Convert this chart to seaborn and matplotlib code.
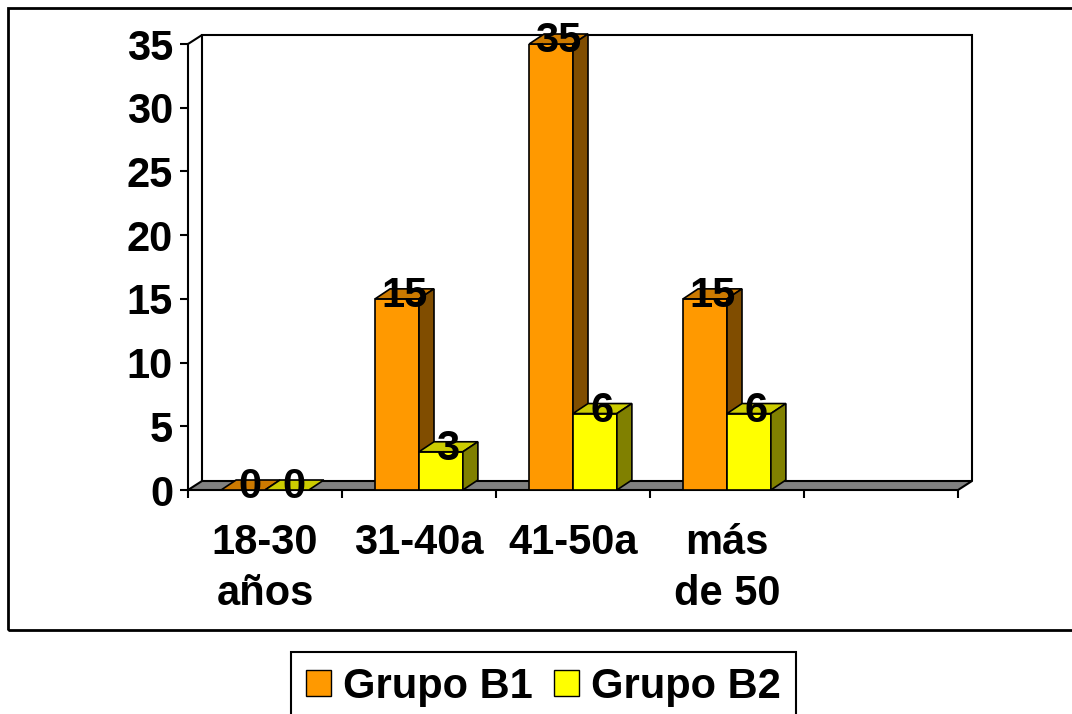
import matplotlib
matplotlib.use("Agg")
import matplotlib.pyplot as plt
import matplotlib.colors as mcolors
from matplotlib.patches import Polygon, Rectangle, Patch
import pandas as pd
import seaborn as sns

# ---- data -------------------------------------------------------------
categories = ["18-30\naños", "31-40a", "41-50a", "más\nde 50"]
grupo_b1 = [0, 15, 35, 15]
grupo_b2 = [0, 3, 6, 6]
series_names = ["Grupo B1", "Grupo B2"]
y_ticks = [0, 5, 10, 15, 20, 25, 30, 35]

# ---- style ------------------------------------------------------------
front_colors = ["#FF9900", "#FFFF00"]
top_colors = ["#CC7A00", "#CCCC00"]
side_colors = ["#804D00", "#808000"]
floor_color = "#808080"

sns.set_theme(style="white")
plt.rcParams["font.family"] = ["Liberation Sans", "DejaVu Sans"]
plt.rcParams["font.weight"] = "bold"
for key in ["text.color", "axes.labelcolor", "xtick.color", "ytick.color",
            "xtick.labelcolor", "ytick.labelcolor"]:
    plt.rcParams[key] = "black"
FS = 30

W, H = 1072, 714
fig = plt.figure(figsize=(W / 100, H / 100), dpi=100)
fig.patch.set_facecolor("white")


def fx(px):
    return px / W


def fy(py):
    return 1 - py / H


# front plane of the 3-D box
ax = fig.add_axes([fx(188), fy(490), fx(958) - fx(188), fy(44) - fy(490)])
ax.set_facecolor("none")

df = pd.DataFrame({
    "Edad": categories * 2,
    "Valor": grupo_b1 + grupo_b2,
    "Grupo": [series_names[0]] * len(categories) + [series_names[1]] * len(categories),
})

sns.barplot(data=df, x="Edad", y="Valor", hue="Grupo", order=categories,
            hue_order=series_names, palette=front_colors, width=0.57,
            saturation=1, edgecolor="black", linewidth=1.2, legend=False,
            ax=ax, zorder=3)

n_slots = len(categories) + 1
ax.set_xlim(-0.5, n_slots - 0.5)
ax.set_ylim(0, y_ticks[-1])
ax.set_xlabel("")
ax.set_ylabel("")
for side in ["top", "right", "bottom"]:
    ax.spines[side].set_visible(False)
ax.spines["left"].set_color("black")
ax.spines["left"].set_linewidth(1.5)
ax.grid(False)


def pix_to_data(dxp, dyp):
    x0, y0 = ax.transData.transform((0, 0))
    x1, y1 = ax.transData.inverted().transform((x0 + dxp, y0 + dyp))
    return x1, y1


wx, wy = pix_to_data(14, 9)     # wall depth
bx, by = pix_to_data(15, 10)    # bar depth
xlo, xhi = -0.5, n_slots - 0.5
ytop = y_ticks[-1]

# floor
ax.add_patch(Polygon([(xlo, 0), (xhi, 0), (xhi + wx, wy), (xlo + wx, wy)],
                     closed=True, facecolor=floor_color, edgecolor="black",
                     linewidth=1.5, zorder=1, clip_on=False))
# back wall and left wall outline
ax.plot([xlo + wx, xlo + wx, xhi + wx, xhi + wx], [wy, ytop + wy, ytop + wy, wy],
        color="black", lw=1.5, zorder=1, clip_on=False, solid_joinstyle="miter")
ax.plot([xlo, xlo + wx], [ytop, ytop + wy], color="black", lw=1.5, zorder=1,
        clip_on=False)

# 3-D faces for each bar
bars = [p for p in ax.patches if isinstance(p, Rectangle)]
bars = sorted(bars, key=lambda p: p.get_x())
for rank, p in enumerate(bars):
    x0, w, h = p.get_x(), p.get_width(), p.get_height()
    fc = mcolors.to_hex(p.get_facecolor()[:3]).upper()
    k = 0 if fc == front_colors[0] else 1
    z = 3 + rank * 0.1
    p.set_zorder(z)
    if h == 0:
        p.set_linewidth(0)
    top = Polygon([(x0, h), (x0 + w, h), (x0 + w + bx, h + by), (x0 + bx, h + by)],
                  closed=True, facecolor=top_colors[k], edgecolor="black",
                  linewidth=1.2, zorder=z, clip_on=False)
    ax.add_patch(top)
    if h > 0:
        side = Polygon([(x0 + w, 0), (x0 + w + bx, by), (x0 + w + bx, h + by), (x0 + w, h)],
                       closed=True, facecolor=side_colors[k], edgecolor="black",
                       linewidth=1.2, zorder=z, clip_on=False)
        ax.add_patch(side)

# value labels
for p in bars:
    v = p.get_height()
    ax.annotate(f"{v:g}", xy=(p.get_x() + p.get_width() / 2, v), xytext=(7, 3),
                textcoords="offset pixels", ha="center", va="center",
                fontsize=FS, fontweight="bold", color="black", zorder=10,
                annotation_clip=False)

# ticks
ax.set_yticks(y_ticks)
ax.tick_params(axis="y", which="major", length=5.8, width=1.5, color="black",
               pad=5, labelsize=FS, left=True, direction="out", labelcolor="black")
ax.set_xticks(range(len(categories)))
ax.set_xticklabels(categories)
ax.set_xticks([i - 0.5 for i in range(n_slots + 1)], minor=True)
ax.tick_params(axis="x", which="major", length=0, pad=24, labelsize=FS,
               bottom=True, labelcolor="black")
ax.tick_params(axis="x", which="minor", length=5.8, width=1.5, color="black",
               bottom=True, direction="out")
for lbl in ax.get_xticklabels():
    lbl.set_linespacing(1.35)
    lbl.set_fontweight("bold")
for lbl in ax.get_yticklabels():
    lbl.set_fontweight("bold")

# chart-area border
fig.add_artist(Rectangle((fx(8), fy(630)), fx(1100) - fx(8), fy(8) - fy(630),
                         transform=fig.transFigure, fill=False, edgecolor="black",
                         linewidth=2, clip_on=False))

# legend
handles = [Patch(facecolor=c, edgecolor="black", linewidth=1) for c in front_colors]
leg = fig.legend(handles, series_names, loc="upper center",
                 bbox_to_anchor=(fx(543.5), fy(652)), ncol=2, frameon=True,
                 fancybox=False, edgecolor="black", framealpha=1,
                 prop=dict(size=FS, weight="bold"), handlelength=0.6,
                 handleheight=0.6, handletextpad=0.3, columnspacing=0.5,
                 borderpad=0.35, borderaxespad=0)
leg.get_frame().set_linewidth(1.5)
for t in leg.get_texts():
    t.set_color("black")

fig.savefig("out.png", dpi=100, facecolor="white")
